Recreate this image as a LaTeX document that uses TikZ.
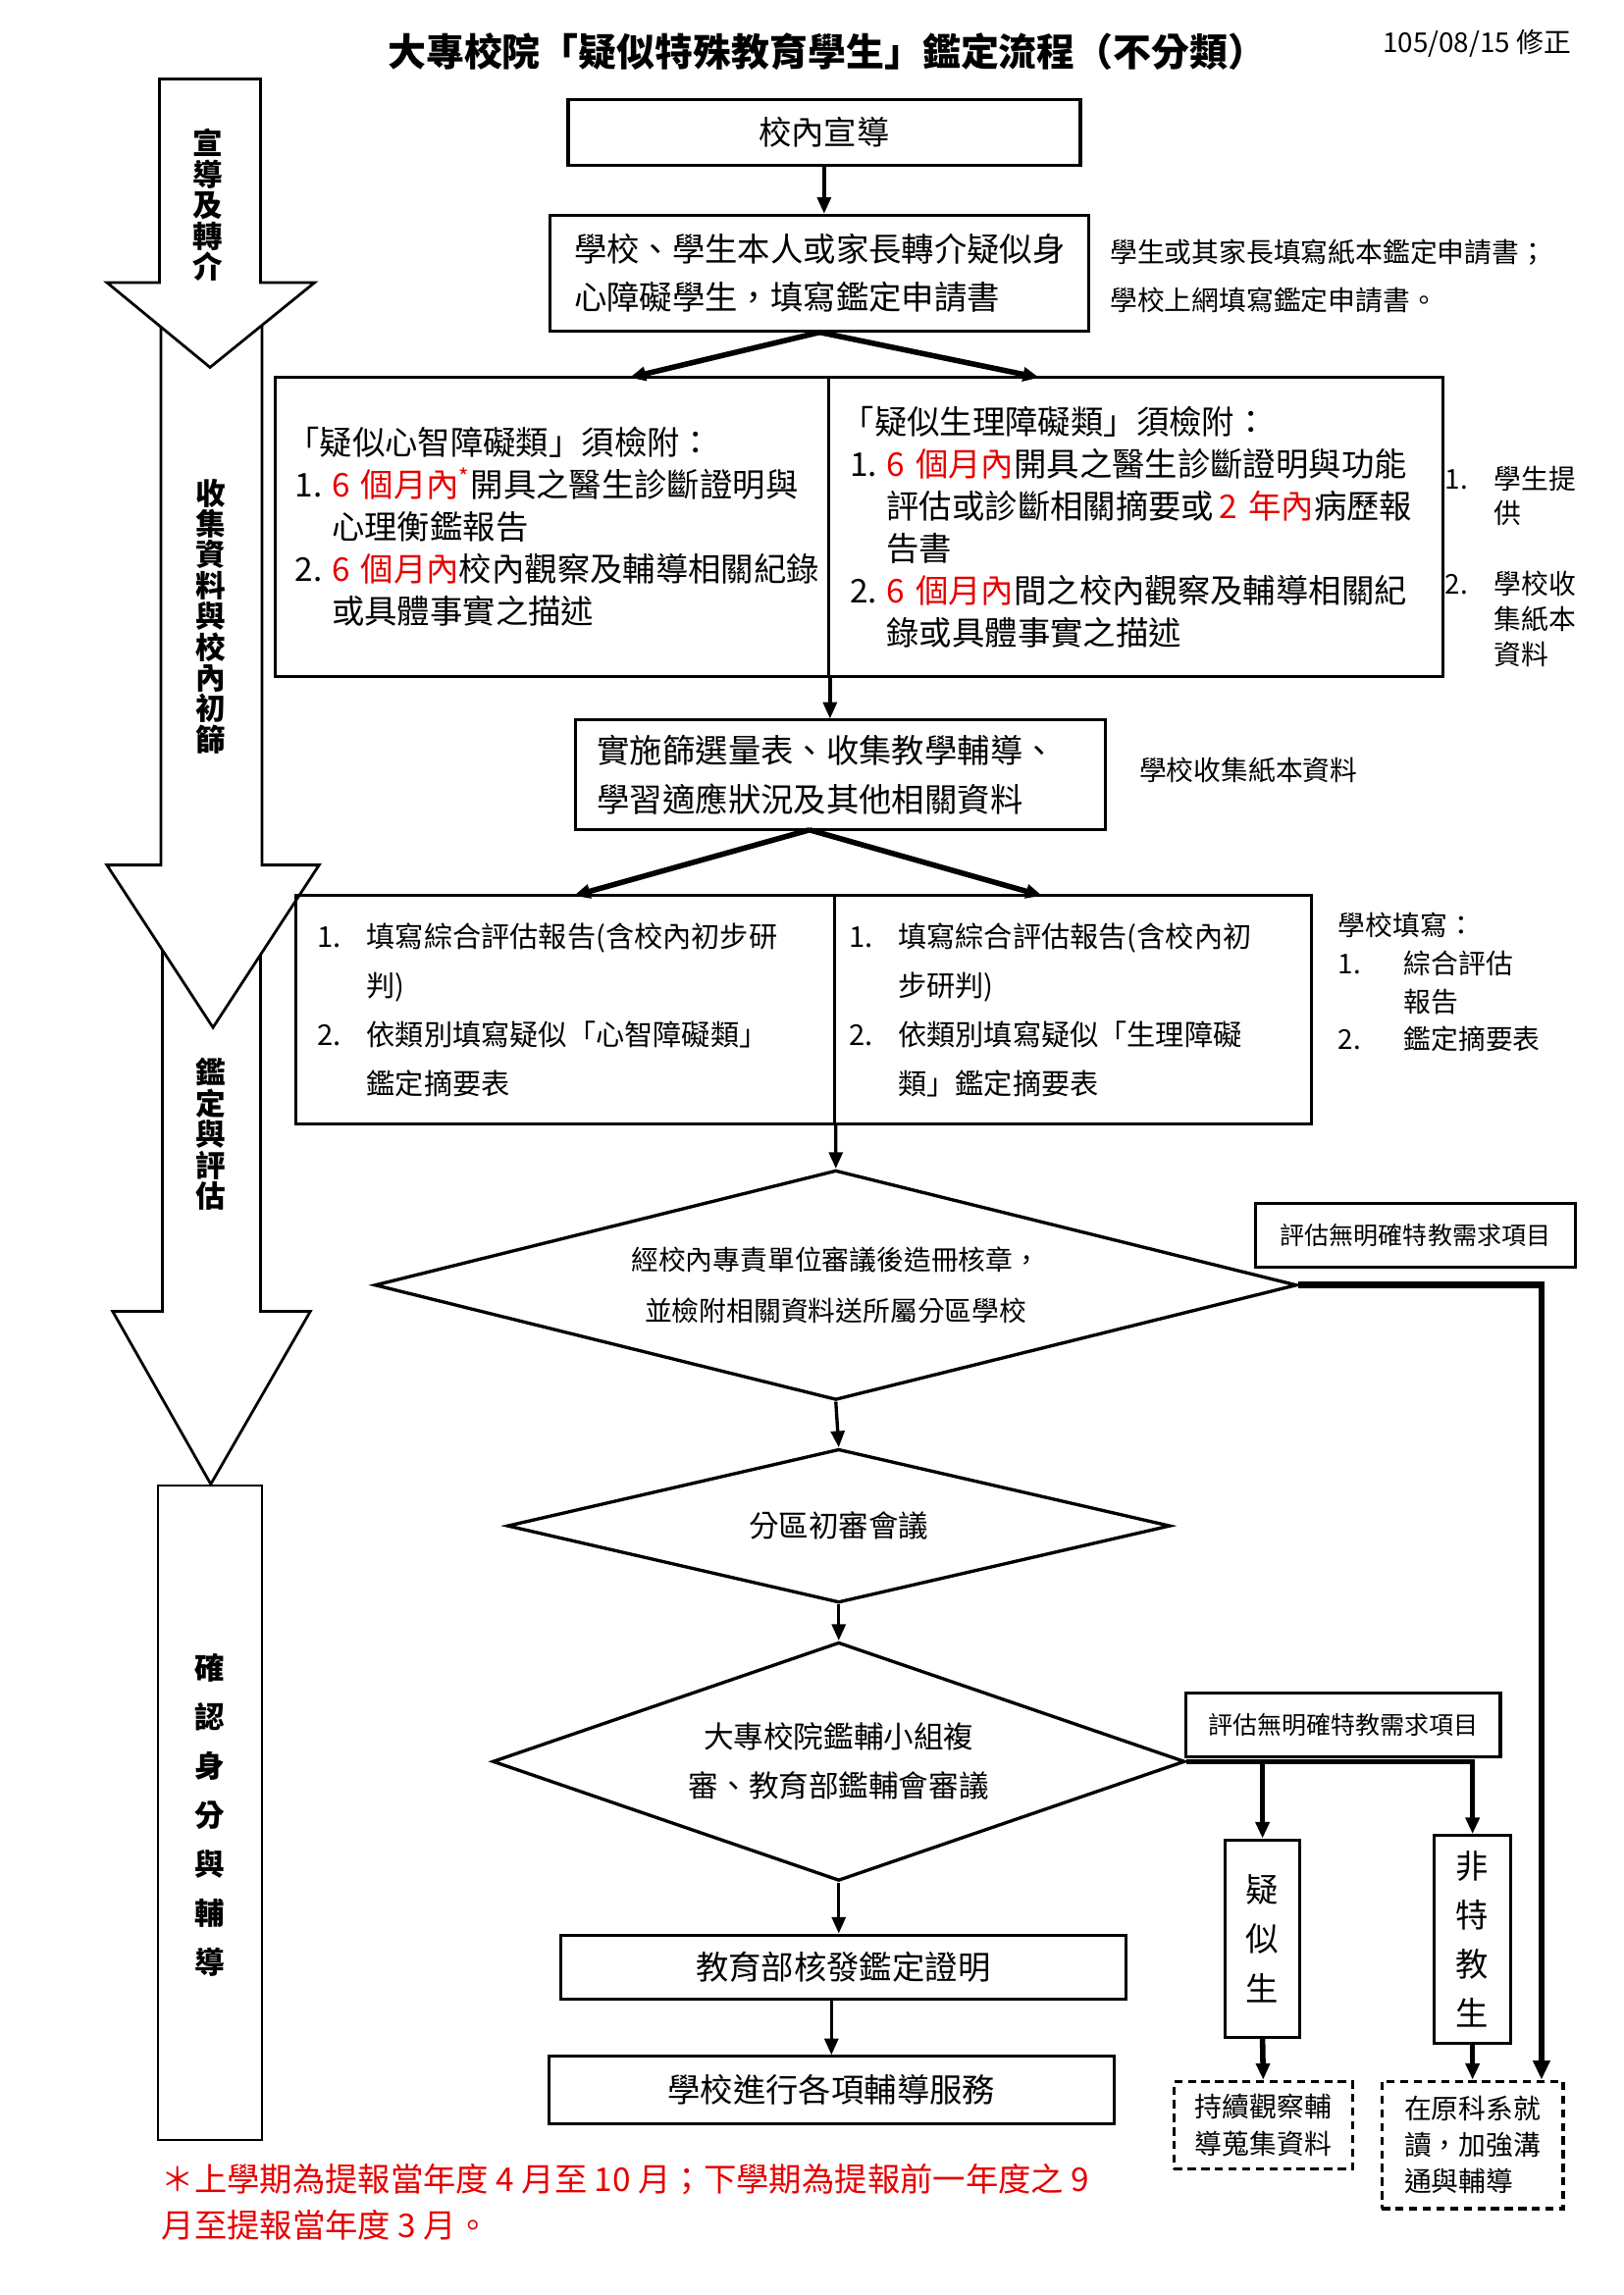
\documentclass[tikz,border=0pt]{standalone}
\usepackage{fontspec}
\setmainfont{Noto Sans CJK TC}
\usetikzlibrary{shapes.geometric,arrows.meta}
\definecolor{warnred}{RGB}{230,0,0}
\newcommand{\pxu}{0.5365pt}
\newcommand{\rd}[1]{\textcolor{warnred}{#1}}
\newcommand{\nA}[1]{\hspace*{3pt}\makebox[13.5pt][l]{#1}}
\newcommand{\iA}{\hspace*{16.5pt}}
\newcommand{\nB}[1]{\makebox[18pt][l]{#1}}
\newcommand{\iB}{\hspace*{18pt}}
\begin{document}
\begin{tikzpicture}[x=\pxu, y=-\pxu, >={Triangle[length=6pt,width=5pt]},
  sz/.style 2 args={minimum width=#1*\pxu, minimum height=#2*\pxu},
  pad/.style 2 args={inner xsep=#2*\pxu, text width=(#1-2*#2)*\pxu},
  box/.style={draw, line width=1.1pt, inner sep=0pt, align=left},
  dbox/.style={draw, line width=1.2pt, dash pattern=on 3pt off 2pt, inner sep=0pt, align=left},
  dia/.style={draw, diamond, line width=1.2pt, inner sep=0pt, align=center},
  bigarrow/.style={draw, line width=1pt, fill=white},
  stage/.style={font=\bfseries\fontsize{11}{11.3}\selectfont, align=center, inner sep=0pt},
  note/.style={font=\fontsize{10}{17.7}\selectfont, align=left, inner sep=0pt, anchor=west},
  link/.style={->, line width=1.2pt},
  fork/.style={->, line width=2pt}]
\useasboundingbox (0,0) rectangle (1109,1568);
% title
\node (title) at (565,35) {\bfseries\fontsize{14}{16}\selectfont 大專校院「疑似特殊教育學生」鑑定流程（不分類）};
\node (date) at (1009,30) {\fontsize{10}{12}\selectfont 105/08/15 修正};
% stages on the left
\draw[bigarrow] (108,1015) rectangle (179,1462);
\draw[bigarrow] (111,620) -- (178,620) -- (178,896) -- (212,896) -- (144,1014) -- (77,896) -- (111,896) -- cycle;
\draw[bigarrow] (110,200) -- (179,200) -- (179,591) -- (218,591) -- (145.5,702) -- (73,591) -- (110,591) -- cycle;
\draw[bigarrow] (109,54) -- (178,54) -- (178,193) -- (215,193) -- (143.5,251) -- (73,193) -- (109,193) -- cycle;
\node[stage] (s1) at (142,140) {宣\\導\\及\\轉\\介};
\node[stage] (s2) at (144,421) {收\\集\\資\\料\\與\\校\\內\\初\\篩};
\node[stage] (s3) at (144,775) {鑑\\定\\與\\評\\估};
\node[stage, font=\bfseries\fontsize{11}{18}\selectfont] (s4) at (143,1240) {確\\認\\身\\分\\與\\輔\\導};
% referral
\node[box, sz={350}{45}, line width=1.3pt, font=\fontsize{12}{14}\selectfont] (xc) at (563,90.5) {校內宣導};
\node[box, sz={368}{79}, font=\fontsize{12}{17.7}\selectfont] (apply) at (560,186.5) {學校、學生本人或家長轉介疑似身\\心障礙學生，填寫鑑定申請書};
\node[note] (n1) at (758,188.5) {學生或其家長填寫紙本鑑定申請書；\\學校上網填寫鑑定申請書。};
% documents
\node[box, sz={378}{204}, pad={378}{8}, font=\fontsize{12}{15.5}\selectfont] (lh) at (377,360) {「疑似心智障礙類」須檢附：\\
  \nA{1.}\rd{6~個月內}\textsuperscript{\rd{*}}開具之醫生診斷證明與\\
  \iA 心理衡鑑報告\\
  \nA{2.}\rd{6~個月內}校內觀察及輔導相關紀錄\\
  \iA 或具體事實之描述};
\node[box, sz={420}{204}, pad={420}{9}, font=\fontsize{12}{15.5}\selectfont] (rh) at (776,360) {「疑似生理障礙類」須檢附：\\
  \nA{1.}\rd{6~個月內}開具之醫生診斷證明與功能\\
  \iA 評估或診斷相關摘要或\,\rd{2~年內}病歷報\\
  \iA 告書\\
  \nA{2.}\rd{6~個月內}間之校內觀察及輔導相關紀\\
  \iA 錄或具體事實之描述};
\node[note, font=\fontsize{10}{12.9}\selectfont] (n2) at (987,387) {\nB{1.}學生提\\\iB 供\\[13pt]\nB{2.}學校收\\\iB 集紙本\\\iB 資料};
\node[box, sz={362}{75}, pad={362}{15}, font=\fontsize{12}{17.7}\selectfont] (screen) at (574,529.5) {實施篩選量表、收集教學輔導、\\學習適應狀況及其他相關資料};
\node[note] (n3) at (778,526) {學校收集紙本資料};
% reports
\node[box, sz={368}{156}, pad={368}{15}, font=\fontsize{10.5}{17.9}\selectfont] (lq) at (386,690) {\nB{1.}填寫綜合評估報告(含校內初步研\\
  \iB 判)\\
  \nB{2.}依類別填寫疑似「心智障礙類」\\
  \iB 鑑定摘要表};
\node[box, sz={326}{156}, pad={326}{10}, font=\fontsize{10.5}{17.9}\selectfont] (rq) at (733,690) {\nB{1.}填寫綜合評估報告(含校內初\\
  \iB 步研判)\\
  \nB{2.}依類別填寫疑似「生理障礙\\
  \iB 類」鑑定摘要表};
\node[note, font=\fontsize{10}{14}\selectfont] (n4) at (914,671) {學校填寫：\\\makebox[24pt][l]{1.}綜合評估\\\hspace*{24pt}報告\\\makebox[24pt][l]{2.}鑑定摘要表};
% review
\node[dia, aspect=4, sz={630}{157}, font=\fontsize{10}{18.8}\selectfont] (d1) at (571,878) {經校內專責單位審議後造冊核章，\\並檢附相關資料送所屬分區學校};
\node[box, sz={218}{44}, font=\fontsize{9}{11}\selectfont] (e1) at (967,844) {評估無明確特教需求項目};
\node[dia, aspect=4, sz={453}{105}, font=\fontsize{11}{13}\selectfont] (d2) at (573,1042.5) {分區初審會議};
\node[dia, aspect=3, sz={473}{163}, font=\fontsize{11}{18}\selectfont] (d3) at (573,1203.5) {大專校院鑑輔小組複\\審、教育部鑑輔會審議};
\node[box, sz={215}{43}, font=\fontsize{9}{11}\selectfont] (e2) at (917.5,1178.5) {評估無明確特教需求項目};
\node[box, sz={386}{44}, font=\fontsize{12}{14}\selectfont] (cert) at (576,1344) {教育部核發鑑定證明};
\node[box, sz={386}{46}, font=\fontsize{12}{14}\selectfont] (serv) at (568,1428) {學校進行各項輔導服務};
\node[box, sz={51}{135}, align=center, font=\fontsize{12}{18}\selectfont] (sus) at (862.5,1324.5) {疑\\似\\生};
\node[box, sz={52}{142}, align=center, font=\fontsize{12}{18}\selectfont] (non) at (1006,1325) {非\\特\\教\\生};
\node[dbox, sz={122}{60}, font=\fontsize{10}{13.4}\selectfont] (obs) at (863,1452) {持續觀察輔\\導蒐集資料};
\node[dbox, sz={124}{87}, font=\fontsize{10}{13.4}\selectfont] (stay) at (1006,1465.5) {在原科系就\\讀，加強溝\\通與輔導};
\node[anchor=north west, inner sep=0pt, text=warnred, align=left, font=\fontsize{12}{17}\selectfont] (foot) at (110,1478) {＊上學期為提報當年度 4 月至 10 月；下學期為提報前一年度之 9\\月至提報當年度 3 月。};
% connectors
\coordinate (fl) at (430,258);
\coordinate (fr) at (710,258);
\coordinate (gs) at (553,567);
\coordinate (gl) at (392,612);
\coordinate (gr) at (712,612);
\draw[link] (xc.south) -- (xc.south |- apply.north);
\draw[fork] (apply.south) -- (fl);
\draw[fork] (apply.south) -- (fr);
\draw[link] (lh.south east) -- (lh.south east |- screen.north);
\draw[fork] (gs) -- (gl);
\draw[fork] (gs) -- (gr);
\draw[link] (lq.south east) -- (d1.north);
\draw[link] (d1.south) -- (d2.north);
\draw[link] (d2.south) -- (d3.north);
\draw[link] (d3.south) -- (d3.south |- cert.north);
\draw[link] (serv.north |- cert.south) -- (serv.north);
\draw[->, line width=2.4pt, >={Triangle[length=7pt,width=6pt]}] (d1.east) -| ([xshift=-16*\pxu]stay.north east);
\draw[->, line width=2pt] (d3.east) -| (non.north);
\draw[->, line width=2pt] (d3.east -| sus.north) -- (sus.north);
\draw[->, line width=2pt] (sus.south) -- (obs.north);
\draw[->, line width=2pt] (non.south) -- (stay.north);
\end{tikzpicture}
\end{document}
